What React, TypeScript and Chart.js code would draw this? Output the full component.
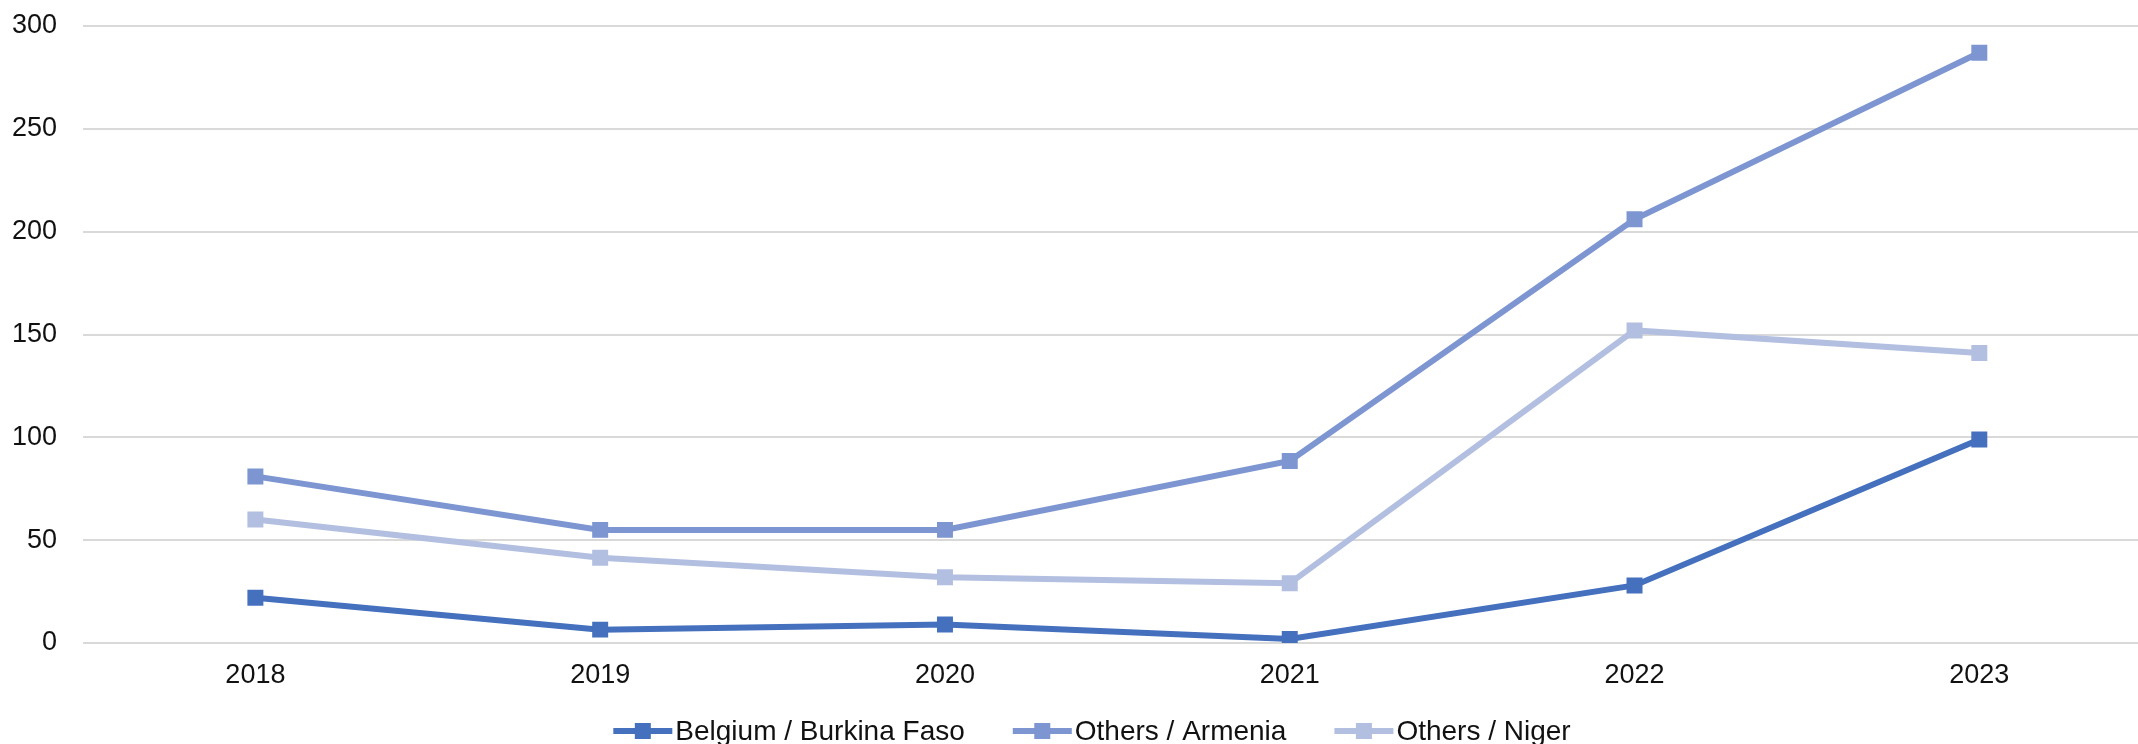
import React, { useEffect, useRef } from "react";
import { Chart, registerables } from "chart.js";

Chart.register(...registerables);

const categories = ["2018", "2019", "2020", "2021", "2022", "2023"];
const belgiumBurkinaFaso = [22, 6.5, 9, 2, 28, 99];
const othersArmenia = [81, 55, 55, 88.5, 206, 287];
const othersNiger = [60, 41.5, 32, 29, 152, 141];
const seriesNames = ["Belgium / Burkina Faso", "Others / Armenia", "Others / Niger"];
const yTickValues = [0, 50, 100, 150, 200, 250, 300];

const COLORS = ["#4470BE", "#7D95D1", "#B3BFE0"];
const FONT = '"Liberation Sans", Arial, sans-serif';

const legendPlugin = {
  id: "customLegend",
  afterDraw(chart: any) {
    const ctx = chart.ctx as CanvasRenderingContext2D;
    const fontSize = 28;
    const markerW = 59;
    const textOffset = 62;
    const itemGap = 48;
    const centerX = 1092;
    const y = 731;
    ctx.save();
    ctx.font = `${fontSize}px ${FONT}`;
    const items = chart.data.datasets.map((ds: any) => ({
      text: ds.label as string,
      color: ds.borderColor as string,
      w: ctx.measureText(ds.label).width,
    }));
    const total =
      items.reduce((s: number, it: any) => s + textOffset + it.w, 0) + itemGap * (items.length - 1);
    let x = centerX - total / 2;
    items.forEach((it: any) => {
      ctx.strokeStyle = it.color;
      ctx.lineWidth = 6;
      ctx.beginPath();
      ctx.moveTo(x, y);
      ctx.lineTo(x + markerW, y);
      ctx.stroke();
      ctx.fillStyle = it.color;
      ctx.fillRect(x + markerW / 2 - 8, y - 8, 16, 16);
      ctx.fillStyle = "#111";
      ctx.textBaseline = "middle";
      ctx.textAlign = "left";
      ctx.fillText(it.text, x + textOffset, y + 1);
      x += textOffset + it.w + itemGap;
    });
    ctx.restore();
  },
};

export default function App() {
  const ref = useRef<HTMLCanvasElement | null>(null);

  useEffect(() => {
    if (!ref.current) return;
    const seriesValues = [belgiumBurkinaFaso, othersArmenia, othersNiger];
    const chart = new Chart(ref.current, {
      type: "line",
      data: {
        labels: categories,
        datasets: seriesValues.map((vals, i) => ({
          label: seriesNames[i],
          data: vals,
          borderColor: COLORS[i],
          backgroundColor: COLORS[i],
          borderWidth: 6,
          tension: 0,
          pointStyle: "rect",
          pointRadius: 11.3,
          pointHoverRadius: 11.3,
          pointBorderWidth: 0,
          pointBackgroundColor: COLORS[i],
          fill: false,
        })),
      },
      options: {
        responsive: false,
        animation: false,
        layout: { padding: { top: 26, bottom: 53, left: 0, right: 0 } },
        plugins: {
          legend: { display: false },
          tooltip: { enabled: false },
        },
        scales: {
          x: {
            offset: true,
            grid: { display: false, drawTicks: false },
            border: { display: false },
            ticks: {
              color: "#111",
              font: { family: FONT, size: 27 },
              padding: 16,
              maxRotation: 0,
            },
            afterFit: (scale: any) => {
              scale.height = 48;
              scale.paddingLeft = 0;
              scale.paddingRight = 0;
            },
          },
          y: {
            min: 0,
            max: 300,
            afterBuildTicks: (scale: any) => {
              scale.ticks = yTickValues.map((v) => ({ value: v }));
            },
            grid: { color: "#D9D9D9", lineWidth: 2, drawTicks: false },
            border: { display: false },
            ticks: {
              color: "#111",
              font: { family: FONT, size: 27 },
              padding: 26,
            },
            afterFit: (scale: any) => {
              scale.width = 83;
              scale.paddingTop = 0;
              scale.paddingBottom = 0;
            },
          },
        },
      },
      plugins: [legendPlugin],
    });
    return () => chart.destroy();
  }, []);

  return (
    <div
      style={{
        position: "fixed",
        left: 0,
        top: 0,
        width: 2138,
        height: 744,
        overflow: "hidden",
        background: "#fff",
      }}
    >
      <canvas ref={ref} width={2163} height={744} style={{ width: 2163, height: 744, display: "block" }} />
    </div>
  );
}
